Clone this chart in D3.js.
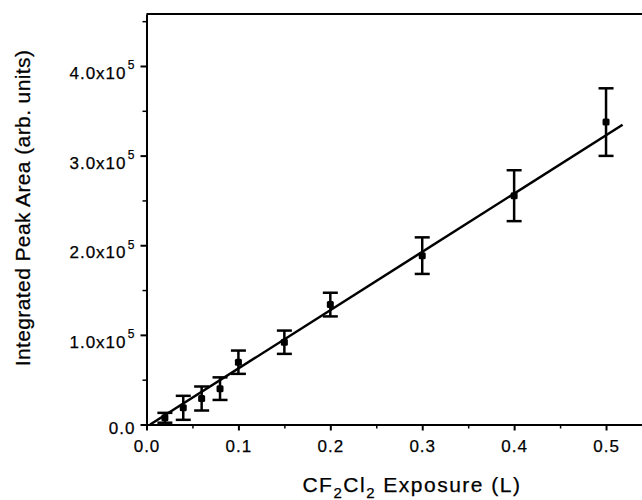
<!DOCTYPE html>
<html>
<head>
<meta charset="utf-8">
<script src="https://cdn.jsdelivr.net/npm/d3@7.9.0/dist/d3.min.js"></script>
<style>
  body { margin: 0; background: #fff; }
  svg { display: block; font-family: "Liberation Sans", Arial, sans-serif; }
  svg text { stroke: #000; stroke-width: 0.25px; }
</style>
</head>
<body>
<div id="chart"></div>
<script>
// exposure (L) vs integrated peak area, with +/- error
const exposure = [0.02, 0.04, 0.06, 0.08, 0.10, 0.15, 0.20, 0.30, 0.40, 0.50];
const area = [7.5e3, 1.86e4, 2.9e4, 4.0e4, 6.95e4, 9.18e4, 1.338e5, 1.884e5, 2.553e5, 3.374e5];
const areaErr = [5.5e3, 1.34e4, 1.34e4, 1.26e4, 1.3e4, 1.3e4, 1.32e4, 2.04e4, 2.84e4, 3.77e4];

// linear fit end points
const fitX = [0.004, 0.518];
const fitY = [0, 3.345e5];

const xTicks = [0, 0.1, 0.2, 0.3, 0.4, 0.5];
const xMinor = [0.05, 0.15, 0.25, 0.35, 0.45];
const yTicks = [0, 1e5, 2e5, 3e5, 4e5];
const yMinor = [0.5e5, 1.5e5, 2.5e5, 3.5e5, 4.5e5];

const width = 642;
const height = 500;

const points = exposure.map((x, i) => ({ x, y: area[i], e: areaErr[i] }));

const svg = d3.select('#chart')
  .append('svg')
  .attr('width', width)
  .attr('height', height);

const xScale = d3.scaleLinear()
  .domain([0, 0.54])
  .range([146.5, 642.8]);

const yScale = d3.scaleLinear()
  .domain([0, 4.58e5])
  .range([424.5, 14]);

// frame top line (plot is cut off on the right)
svg.append('line')
  .attr('x1', xScale(0)).attr('x2', width)
  .attr('y1', yScale.range()[1]).attr('y2', yScale.range()[1])
  .attr('stroke', '#000').attr('stroke-width', 2);

// minor ticks
svg.append('g')
  .attr('transform', `translate(0, ${yScale(0)})`)
  .call(d3.axisBottom(xScale).tickValues(xMinor).tickSize(4).tickFormat(''))
  .call(g => g.select('.domain').remove())
  .selectAll('line').attr('stroke-width', 1.5);

svg.append('g')
  .attr('transform', `translate(${xScale(0)}, 0)`)
  .call(d3.axisLeft(yScale).tickValues(yMinor).tickSize(4).tickFormat(''))
  .call(g => g.select('.domain').remove())
  .selectAll('line').attr('stroke-width', 1.5);

// x axis
const xAxis = svg.append('g')
  .attr('transform', `translate(0, ${yScale(0)})`)
  .call(d3.axisBottom(xScale).tickValues(xTicks).tickSize(6).tickSizeOuter(0).tickFormat(d3.format('.1f')));

xAxis.select('.domain').attr('stroke-width', 2);
xAxis.selectAll('.tick line').attr('stroke-width', 2);
xAxis.selectAll('.tick text')
  .attr('font-size', 17)
  .attr('letter-spacing', 1)
  .attr('y', 27.5)
  .attr('dy', 0)
  .attr('fill', '#000');

// y axis
const yAxis = svg.append('g')
  .attr('transform', `translate(${xScale(0)}, 0)`)
  .call(d3.axisLeft(yScale).tickValues(yTicks).tickSize(6).tickSizeOuter(0).tickFormat(''));

yAxis.select('.domain').attr('stroke-width', 2);
yAxis.selectAll('.tick line').attr('stroke-width', 2);
yAxis.selectAll('.tick text').each(function (d) {
  const t = d3.select(this)
    .attr('font-size', 17)
    .attr('letter-spacing', 1)
    .attr('fill', '#000')
    .attr('x', d === 0 ? -11 : -20)
    .attr('dy', 0)
    .attr('y', d === 0 ? 8.5 : 12.5);
  if (d === 0) {
    t.text('0.0');
  } else {
    t.append('tspan').text((d / 1e5).toFixed(1) + 'x10');
    t.append('tspan')
      .attr('x', -12)
      .attr('dy', -9.5)
      .attr('font-size', 12)
      .attr('letter-spacing', 0)
      .text('5');
  }
});

// fit line
svg.append('line')
  .attr('x1', xScale(fitX[0])).attr('y1', yScale(fitY[0]))
  .attr('x2', xScale(fitX[1])).attr('y2', yScale(fitY[1]))
  .attr('stroke', '#000')
  .attr('stroke-width', 2.5);

// error bars
const bars = svg.append('g').attr('class', 'errors')
  .attr('stroke', '#000')
  .attr('stroke-width', 2.5);

const capW = 7.5;
bars.selectAll('g')
  .data(points)
  .join('g')
  .each(function (d) {
    const g = d3.select(this);
    const cx = xScale(d.x);
    const top = yScale(d.y + d.e);
    const bot = yScale(d.y - d.e);
    g.append('line').attr('x1', cx).attr('x2', cx).attr('y1', top).attr('y2', bot);
    g.append('line').attr('x1', cx - capW).attr('x2', cx + capW).attr('y1', top).attr('y2', top);
    g.append('line').attr('x1', cx - capW).attr('x2', cx + capW).attr('y1', bot).attr('y2', bot);
  });

// markers
svg.append('g')
  .selectAll('rect')
  .data(points)
  .join('rect')
  .attr('x', d => xScale(d.x) - 3.5)
  .attr('y', d => yScale(d.y) - 3.5)
  .attr('width', 7)
  .attr('height', 7)
  .attr('rx', 1.5)
  .attr('fill', '#000');

// axis titles
const xTitle = svg.append('text')
  .attr('x', 412)
  .attr('y', 492)
  .attr('text-anchor', 'middle')
  .attr('font-size', 21)
  .attr('letter-spacing', 1.5)
  .attr('fill', '#000');
xTitle.append('tspan').text('CF');
xTitle.append('tspan').attr('font-size', 15).attr('dy', 6).text('2');
xTitle.append('tspan').attr('dy', -6).text('Cl');
xTitle.append('tspan').attr('font-size', 15).attr('dy', 6).text('2');
xTitle.append('tspan').attr('dy', -6).text(' Exposure (L)');

svg.append('text')
  .attr('transform', 'translate(30, 208) rotate(-90)')
  .attr('text-anchor', 'middle')
  .attr('font-size', 21)
  .attr('letter-spacing', 0.4)
  .attr('fill', '#000')
  .text('Integrated Peak Area (arb. units)');
</script>
</body>
</html>
